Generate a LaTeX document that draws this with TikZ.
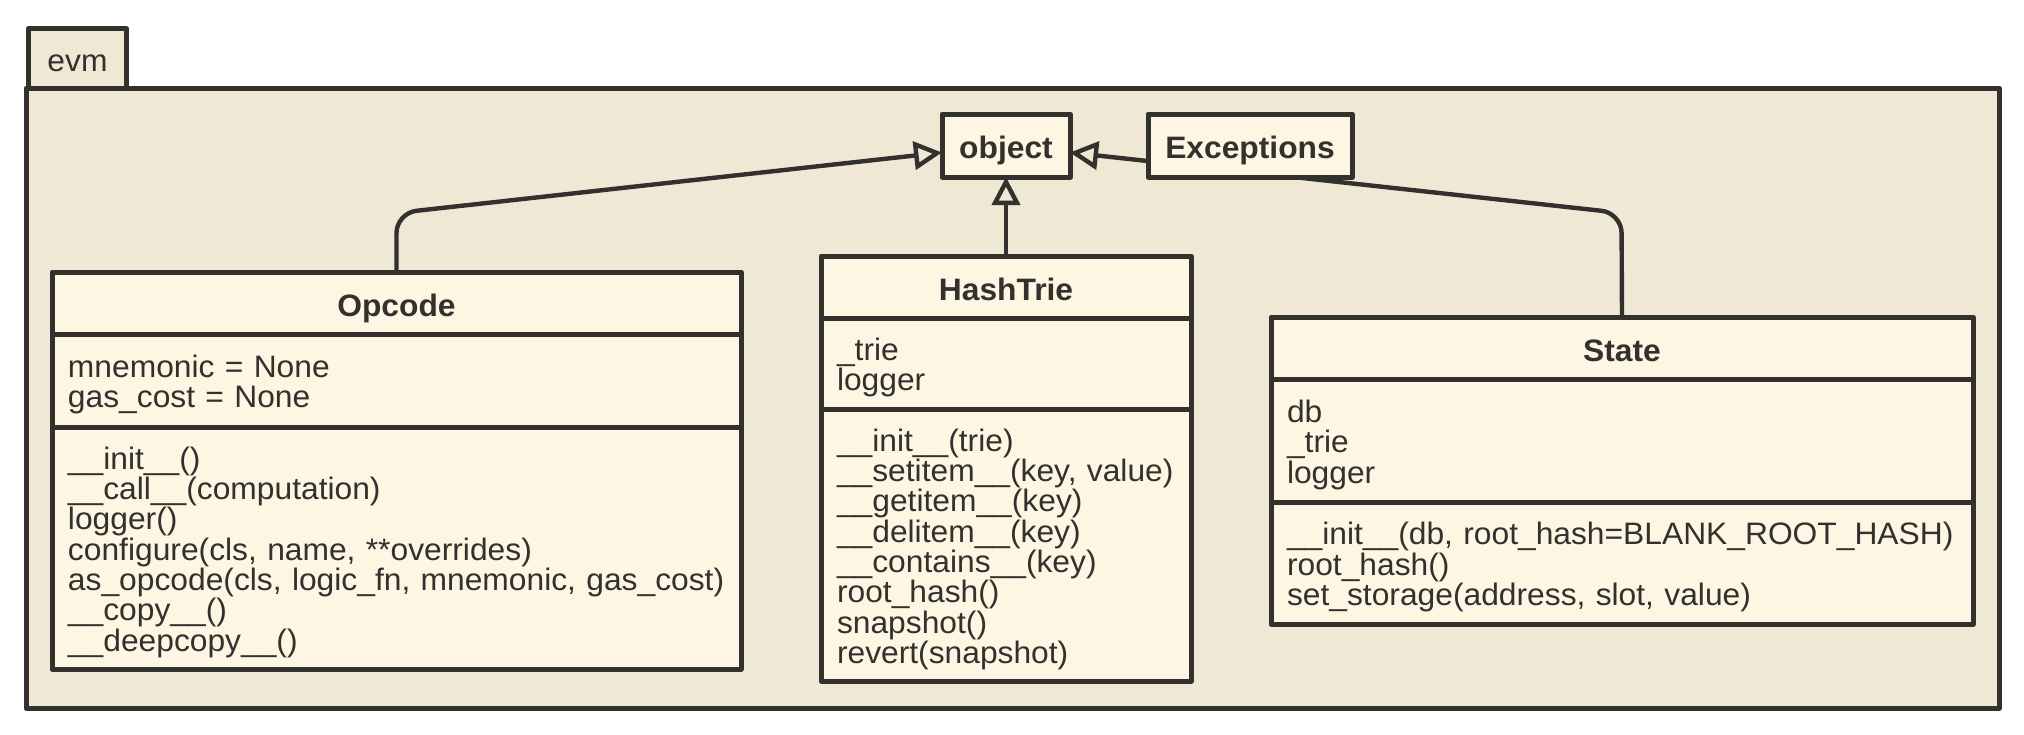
\documentclass[tikz,border=0pt]{standalone}
\usepackage{fontspec}
\setmainfont{Liberation Sans}[FakeStretch=1.025]
\usetikzlibrary{positioning, arrows.meta}
\definecolor{Ink}{HTML}{33312E}
\definecolor{PkgFill}{HTML}{EEE8D5}
\definecolor{ClassFill}{HTML}{FDF6E3}
\newcommand{\umlfont}{\fontsize{15.5}{15.15}\selectfont\lineskiplimit=-6pt}
\newcommand{\sectop}{\rule{0pt}{15.5pt}}
\tikzset{
    pkgtab/.style={rectangle, draw=Ink, fill=PkgFill, line width=2.5pt, inner sep=0pt, minimum width=49pt, minimum height=31pt, text height=12pt, text depth=0pt, text=Ink, font=\umlfont},
    classhead/.style={rectangle, draw=Ink, fill=ClassFill, line width=2.5pt, outer sep=0pt, inner sep=0pt, minimum height=31pt, text height=13.5pt, text depth=0pt, text=Ink, font=\bfseries\umlfont},
    classpart/.style={rectangle, draw=Ink, fill=ClassFill, line width=2.5pt, outer sep=0pt, inner xsep=8pt, inner ysep=0pt, align=left, text=Ink, font=\umlfont},
    plainbox/.style={rectangle, draw=Ink, fill=ClassFill, line width=2.5pt, outer sep=0pt, inner sep=0pt, minimum height=31.5pt, text height=13pt, text depth=0pt, text=Ink, font=\bfseries\umlfont},
    inherit/.style={-{Triangle[open, length=14pt, width=14pt]}, line width=2.2pt, draw=Ink, rounded corners=10pt},
}

\begin{document}
\begin{tikzpicture}[x=0.5pt, y=-0.5pt, line join=round]
    \useasboundingbox (0,0) rectangle (2024,734);
    % package evm
    \node[pkgtab, anchor=north west] (evmtab) at (26,26) {evm};
    \draw[line width=2.5pt, draw=Ink, fill=PkgFill] (26,88) rectangle (1999,708);

    \node[plainbox, minimum width=64pt] (object) at (1006,145.5) {object};

    % Opcode
    \node[classhead, minimum width=344.5pt, anchor=north west] (opcode) at (52,272) {Opcode};
    \node[classpart, text width=328.5pt, minimum height=46.5pt, below=0pt of opcode] (opcodeattr)
        {\sectop mnemonic = None\\ gas\_cost = None};
    \node[classpart, text width=328.5pt, minimum height=121pt, below=0pt of opcodeattr] (opcodeop)
        {\sectop\_\_init\_\_()\\ \_\_call\_\_(computation)\\ logger()\\ configure(cls, name, **overrides)\\
         as\_opcode(cls, logic\_fn, mnemonic, gas\_cost)\\ \_\_copy\_\_()\\ \_\_deepcopy\_\_()};

    % HashTrie
    \node[classhead, minimum width=185pt, anchor=north west] (hashtrie) at (821,256) {HashTrie};
    \node[classpart, text width=169pt, minimum height=45.5pt, below=0pt of hashtrie] (hashtrieattr)
        {\sectop\_trie\\ logger};
    \node[classpart, text width=169pt, minimum height=136pt, below=0pt of hashtrieattr] (hashtrieop)
        {\sectop\_\_init\_\_(trie)\\ \_\_setitem\_\_(key, value)\\ \_\_getitem\_\_(key)\\ \_\_delitem\_\_(key)\\
         \_\_contains\_\_(key)\\ root\_hash()\\ snapshot()\\ revert(snapshot)};

    % State
    \node[classhead, minimum width=351pt, anchor=north west] (state) at (1271,317) {State};
    \node[classpart, text width=335pt, minimum height=61.5pt, below=0pt of state] (stateattr)
        {\sectop db\\ \_trie\\ logger};
    \node[classpart, text width=335pt, minimum height=61pt, below=0pt of stateattr] (stateop)
        {\sectop\_\_init\_\_(db, root\_hash=BLANK\_ROOT\_HASH)\\ root\_hash()\\ set\_storage(address, slot, value)};

    % inheritance
    \coordinate (opbend) at (396.5,213);
    \coordinate (stbend) at (1621.5,213);
    \draw[inherit] (opcode.north) -- (opbend) -- ([yshift=-3.5pt]object.west);
    \draw[inherit] (hashtrie.north) -- (object.south);
    \draw[inherit] (state.north) -- (stbend) -- ([yshift=-3.5pt]object.east);

    % drawn last so the State line runs behind it
    \node[plainbox, minimum width=102pt, right=39pt of object] (exceptions) {Exceptions};
\end{tikzpicture}
\end{document}
